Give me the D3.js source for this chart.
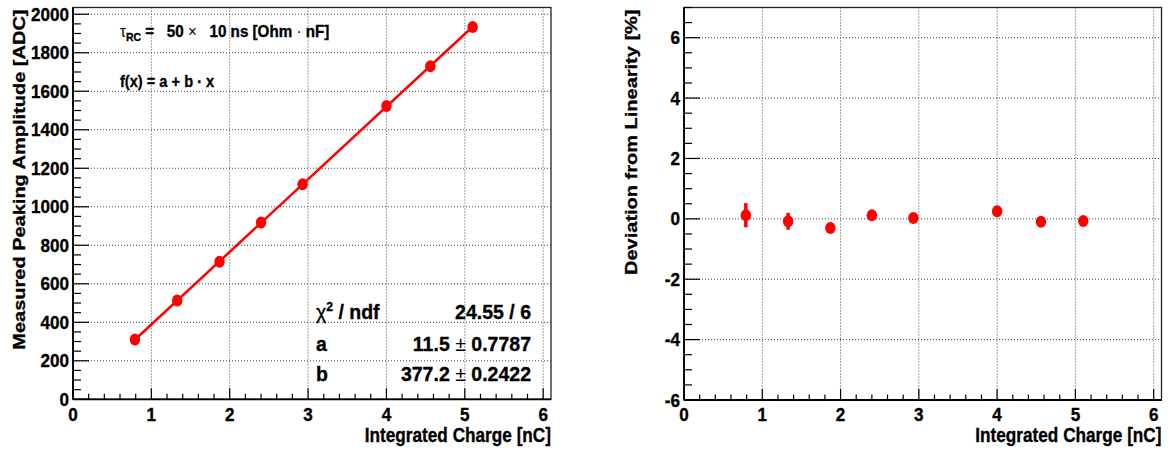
<!DOCTYPE html>
<html>
<head>
<meta charset="utf-8">
<title>linearity</title>
<script src="https://d3js.org/d3.v7.min.js"></script>
<style>
  body { margin: 0; background: #fff; }
  svg text { font-family: "Liberation Sans", Arial, sans-serif; font-weight: bold; fill: #000; white-space: pre; }
</style>
</head>
<body>
<div id="chart"></div>
<script>
// measured points
var charge    = [0.79, 1.33, 1.87, 2.40, 2.93, 4.00, 4.56, 5.10];   // nC
var amplitude = [310, 513, 715, 918, 1117, 1524, 1730, 1934];     // ADC
var deviation = [0.12, -0.08, -0.30, 0.12, 0.03, 0.25, -0.10, -0.07]; // %
var devError  = [0.40, 0.28, 0.12, 0.10, 0.10, 0.08, 0.07, 0.07];  // %

// fit result
var fitA = 11.5, fitB = 377.2;
var statLabels = ["χ2 / ndf", "a", "b"];
var statValues = [["24.55 / 6"], ["11.5", "0.7787"], ["377.2", "0.2422"]];

var xTicks = [0, 1, 2, 3, 4, 5, 6];
var ampTicks = [0, 200, 400, 600, 800, 1000, 1200, 1400, 1600, 1800, 2000];
var devTicks = [-6, -4, -2, 0, 2, 4, 6];

var W = 1169, H = 451;

var svg = d3.select("#chart").append("svg")
  .attr("width", W).attr("height", H);

// text is squeezed horizontally in the original, so scale the glyphs a bit
function label(g, x, y, str, size, anchor, sx, rot) {
  var t = g.append("g").attr("transform", "translate(" + x + "," + y + ")" + (rot ? " rotate(" + rot + ")" : ""))
    .append("text")
    .attr("transform", rot ? "scale(1," + sx + ")" : "scale(" + sx + ",1)")
    .attr("font-size", size)
    .attr("stroke", "#000").attr("stroke-width", 0.35)
    .attr("text-anchor", anchor || "start");
  if (str !== null) t.text(str);
  return t;
}

function range(a, b, step) {
  var out = [];
  for (var v = a; v <= b + 1e-9; v += step) out.push(+v.toFixed(6));
  return out;
}

// draw one frame with axes, grid and tick labels
function frame(box, yScale, yT, yMinorStep, yTitle, titleX) {
  var x = d3.scaleLinear().domain([0, 6.1]).range([box.x0, box.x1]);
  var g = svg.append("g");

  // grid
  g.selectAll(".gx").data(xTicks).enter().append("line")
    .attr("x1", function (d) { return x(d); }).attr("x2", function (d) { return x(d); })
    .attr("y1", box.y0).attr("y2", box.y1)
    .attr("stroke", "#444").attr("stroke-width", 1).attr("stroke-dasharray", "1,2");
  g.selectAll(".gy").data(yT).enter().append("line")
    .attr("x1", box.x0).attr("x2", box.x1)
    .attr("y1", function (d) { return yScale(d); }).attr("y2", function (d) { return yScale(d); })
    .attr("stroke", "#444").attr("stroke-width", 1).attr("stroke-dasharray", "1,2");

  // frame
  g.append("rect").attr("x", box.x0).attr("y", box.y0)
    .attr("width", box.x1 - box.x0).attr("height", box.y1 - box.y0)
    .attr("fill", "none").attr("stroke", "#222").attr("stroke-width", 1.3);
  g.append("line").attr("x1", box.x0).attr("x2", box.x1).attr("y1", box.y1).attr("y2", box.y1)
    .attr("stroke", "#000").attr("stroke-width", 1.8);
  g.append("line").attr("x1", box.x0).attr("x2", box.x0).attr("y1", box.y0).attr("y2", box.y1)
    .attr("stroke", "#000").attr("stroke-width", 1.8);

  // x ticks
  var xMinor = range(0, 6.1, 0.2);
  g.selectAll(".tx").data(xMinor).enter().append("line")
    .attr("x1", function (d) { return x(d); }).attr("x2", function (d) { return x(d); })
    .attr("y1", box.y1)
    .attr("y2", function (d) { return box.y1 - (Math.abs(d - Math.round(d)) < 1e-6 ? 11 : 5.5); })
    .attr("stroke", "#000").attr("stroke-width", 1.2);

  // y ticks
  var yd = yScale.domain();
  var yMinor = range(yd[0], yd[1], yMinorStep);
  g.selectAll(".ty").data(yMinor).enter().append("line")
    .attr("y1", function (d) { return yScale(d); }).attr("y2", function (d) { return yScale(d); })
    .attr("x1", box.x0)
    .attr("x2", function (d) { return box.x0 + (yT.indexOf(d) >= 0 ? 16 : 8); })
    .attr("stroke", "#000").attr("stroke-width", 1.2);

  xTicks.forEach(function (d) { label(g, x(d), 421, String(d), 19, "middle", 0.9); });
  yT.forEach(function (d) { label(g, box.x0 - 4, yScale(d) + 6.5, String(d), 19, "end", 0.9); });

  label(g, box.x1, 442, "Integrated Charge [nC]", 20, "end", 0.86);
  label(g, titleX, box.y0 + 2, yTitle, 20, "end", 0.86, -90);
  return x;
}

// ---- left pad: amplitude vs charge ----
var boxL = { x0: 73, x1: 551, y0: 7.5, y1: 399.3 };
var yL = d3.scaleLinear().domain([0, 2035]).range([boxL.y1, boxL.y0]);
var xL = frame(boxL, yL, ampTicks, 50, "Measured Peaking Amplitude [ADC]", 25);

var fitX = d3.extent(charge);
svg.append("line")
  .attr("x1", xL(fitX[0])).attr("y1", yL(fitA + fitB * fitX[0]))
  .attr("x2", xL(fitX[1])).attr("y2", yL(fitA + fitB * fitX[1]))
  .attr("stroke", "#f00").attr("stroke-width", 2.5);

svg.append("g").selectAll("ellipse").data(charge).enter().append("ellipse")
  .attr("cx", function (d) { return xL(d); })
  .attr("cy", function (d, i) { return yL(amplitude[i]); })
  .attr("rx", 5.2).attr("ry", 6).attr("fill", "#f00");

// annotations
var tau = label(svg, 120, 37, null, 16, "start", 0.95);
tau.append("tspan").text("τ").attr("font-weight", "normal").attr("stroke-width", 0);
tau.append("tspan").text("RC").attr("font-size", 11).attr("dy", 4);
tau.append("tspan").text(" =   50 ").attr("dy", -4);
tau.append("tspan").text("×").attr("font-weight", "normal").attr("stroke-width", 0);
tau.append("tspan").text("   10 ns [Ohm ");
tau.append("tspan").text("·").attr("font-weight", "normal").attr("stroke-width", 0);
tau.append("tspan").text(" nF]");
label(svg, 120, 87, "f(x) = a + b · x", 17, "start", 0.86);

// stats box
var statY = [319, 351, 381];
statLabels.forEach(function (s, i) {
  var t = label(svg, 316, statY[i], null, 21, "start", 0.93);
  if (i === 0) {
    t.append("tspan").text("χ").attr("font-weight", "normal");
    t.append("tspan").text("2").attr("font-size", 13).attr("dy", -8);
    t.append("tspan").text(" / ndf").attr("dy", 8);
  } else {
    t.text(s);
  }
  var v = label(svg, 531, statY[i], null, 21, "end", 0.93);
  var vals = statValues[i];
  v.append("tspan").text(vals[0]);
  if (vals.length > 1) {
    v.append("tspan").text(" ± ").attr("font-weight", "normal").attr("stroke-width", 0);
    v.append("tspan").text(vals[1]);
  }
});

// ---- right pad: deviation from linearity ----
var boxR = { x0: 684, x1: 1161.5, y0: 7.5, y1: 400 };
var yR = d3.scaleLinear().domain([-6, 7]).range([boxR.y1, boxR.y0]);
var xR = frame(boxR, yR, devTicks, 0.5, "Deviation from Linearity [%]", 637);

var pts = svg.append("g");
pts.selectAll("line").data(charge).enter().append("line")
  .attr("x1", function (d) { return xR(d); }).attr("x2", function (d) { return xR(d); })
  .attr("y1", function (d, i) { return yR(deviation[i] - devError[i]); })
  .attr("y2", function (d, i) { return yR(deviation[i] + devError[i]); })
  .attr("stroke", "#f00").attr("stroke-width", 3.5);
pts.selectAll("ellipse").data(charge).enter().append("ellipse")
  .attr("cx", function (d) { return xR(d); })
  .attr("cy", function (d, i) { return yR(deviation[i]); })
  .attr("rx", 5.2).attr("ry", 6).attr("fill", "#f00");
</script>
</body>
</html>
